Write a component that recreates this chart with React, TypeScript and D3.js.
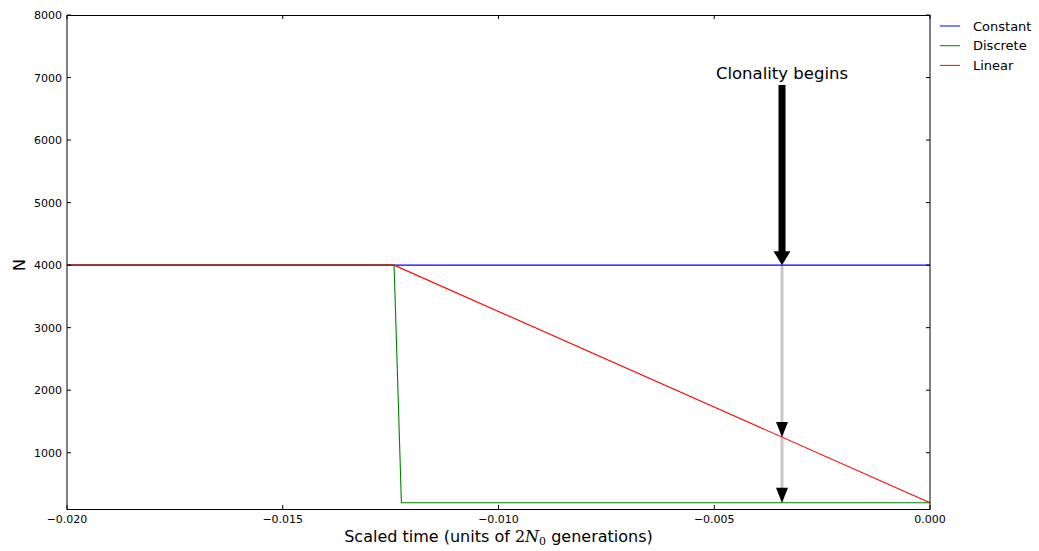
import React from "react";
import * as d3 from "d3";

const constantT = [-0.02, 0];
const constantN = [4000, 4000];
const discreteT = [-0.02, -0.01242, -0.01225, 0];
const discreteN = [4000, 4000, 200, 200];
const linearT = [-0.02, -0.01242, 0];
const linearN = [4000, 4000, 200];

const xTicks = [-0.02, -0.015, -0.01, -0.005, 0];
const yTicks = [1000, 2000, 3000, 4000, 5000, 6000, 7000, 8000];

const clonalityT = -0.00343;
const clonalityTextN = 7000;
const arrowStartN = 6880;
const arrowTargetsN = [4000, 1250, 200];

const seriesNames = ["Constant", "Discrete", "Linear"];
const seriesColors = ["#0000ff", "#008000", "#ff0000"];

const W = 1039, H = 551;
const L = 67, R = 930, T = 15, B = 509;

export default function App() {
  const x = d3.scaleLinear().domain([-0.02, 0]).range([L, R]);
  const y = d3.scaleLinear().domain([100, 8000]).range([B, T]);
  const line = d3.line<[number, number]>().x(d => x(d[0])).y(d => y(d[1]));
  const series = [
    { t: constantT, n: constantN },
    { t: discreteT, n: discreteN },
    { t: linearT, n: linearN },
  ];
  const fmtX = (v: number) => (v === 0 ? "0.000" : d3.format(".3f")(v).replace("-", "\u2212"));
  const ax = x(clonalityT);
  const font = "DejaVu Sans, sans-serif";

  const head = (tipY: number, w: number, len: number) =>
    `${ax - w / 2},${tipY - len} ${ax + w / 2},${tipY - len} ${ax},${tipY}`;

  return (
    <svg width={W} height={H} style={{ position: "absolute", left: 0, top: 0, background: "#fff" }} fontFamily={font}>
      <rect x={0} y={0} width={W} height={H} fill="#fff" />
      <line x1={ax} x2={ax} y1={y(arrowTargetsN[0])} y2={y(arrowTargetsN[2])} stroke="#c8c8c8" strokeWidth={3} />
      {series.map((s, i) => (
        <path key={i} d={line(s.t.map((t, j) => [t, s.n[j]] as [number, number])) || ""} fill="none" stroke={seriesColors[i]} strokeWidth={1.1} />
      ))}
      <rect x={ax - 3.5} y={y(arrowStartN)} width={7} height={y(arrowTargetsN[0]) - y(arrowStartN) - 12} fill="#000" />
      <polygon points={head(y(arrowTargetsN[0]), 17, 14)} fill="#000" />
      <polygon points={head(y(arrowTargetsN[1]), 12, 15)} fill="#000" />
      <polygon points={head(y(arrowTargetsN[2]), 12, 15)} fill="#000" />
      <text x={ax} y={y(clonalityTextN) + 1} textAnchor="middle" fontSize={16.5} fill="#000">Clonality begins</text>
      <line x1={L} x2={R} y1={T + 0.5} y2={T + 0.5} stroke="#000" />
      <line x1={L} x2={R} y1={B + 0.5} y2={B + 0.5} stroke="#000" />
      <line x1={L} x2={L} y1={T} y2={B + 1} stroke="#000" />
      <line x1={R} x2={R} y1={T} y2={B + 1} stroke="#000" />
      {xTicks.map((v, i) => (
        <g key={"x" + i}>
          <line x1={x(v)} x2={x(v)} y1={B} y2={B - 4} stroke="#000" />
          <line x1={x(v)} x2={x(v)} y1={T} y2={T + 4} stroke="#000" />
          <text x={x(v)} y={B + 14} textAnchor="middle" fontSize={11}>{fmtX(v)}</text>
        </g>
      ))}
      {yTicks.map((v, i) => (
        <g key={"y" + i}>
          <line x1={L} x2={L + 4} y1={y(v)} y2={y(v)} stroke="#000" />
          <line x1={R} x2={R - 4} y1={y(v)} y2={y(v)} stroke="#000" />
          <text x={L - 5} y={y(v) + 4} textAnchor="end" fontSize={11}>{v}</text>
        </g>
      ))}
      <text x={(L + R) / 2} y={542} textAnchor="middle" fontSize={16}>
        Scaled time (units of <tspan fontFamily="DejaVu Serif, serif">2</tspan><tspan fontFamily="DejaVu Serif, serif" fontStyle="italic">N</tspan><tspan fontSize={11} dy={3} fontFamily="DejaVu Serif, serif">0</tspan><tspan dy={-3}> generations)</tspan>
      </text>
      <text transform={`translate(25, ${y(4000)}) rotate(-90)`} textAnchor="middle" fontSize={16}>N</text>
      {seriesNames.map((nm, i) => (
        <g key={nm}>
          <line x1={940} x2={960} y1={26 + i * 19.7} y2={26 + i * 19.7} stroke={seriesColors[i]} />
          <text x={973} y={26 + i * 19.7 + 4.5} fontSize={13}>{nm}</text>
        </g>
      ))}
    </svg>
  );
}
